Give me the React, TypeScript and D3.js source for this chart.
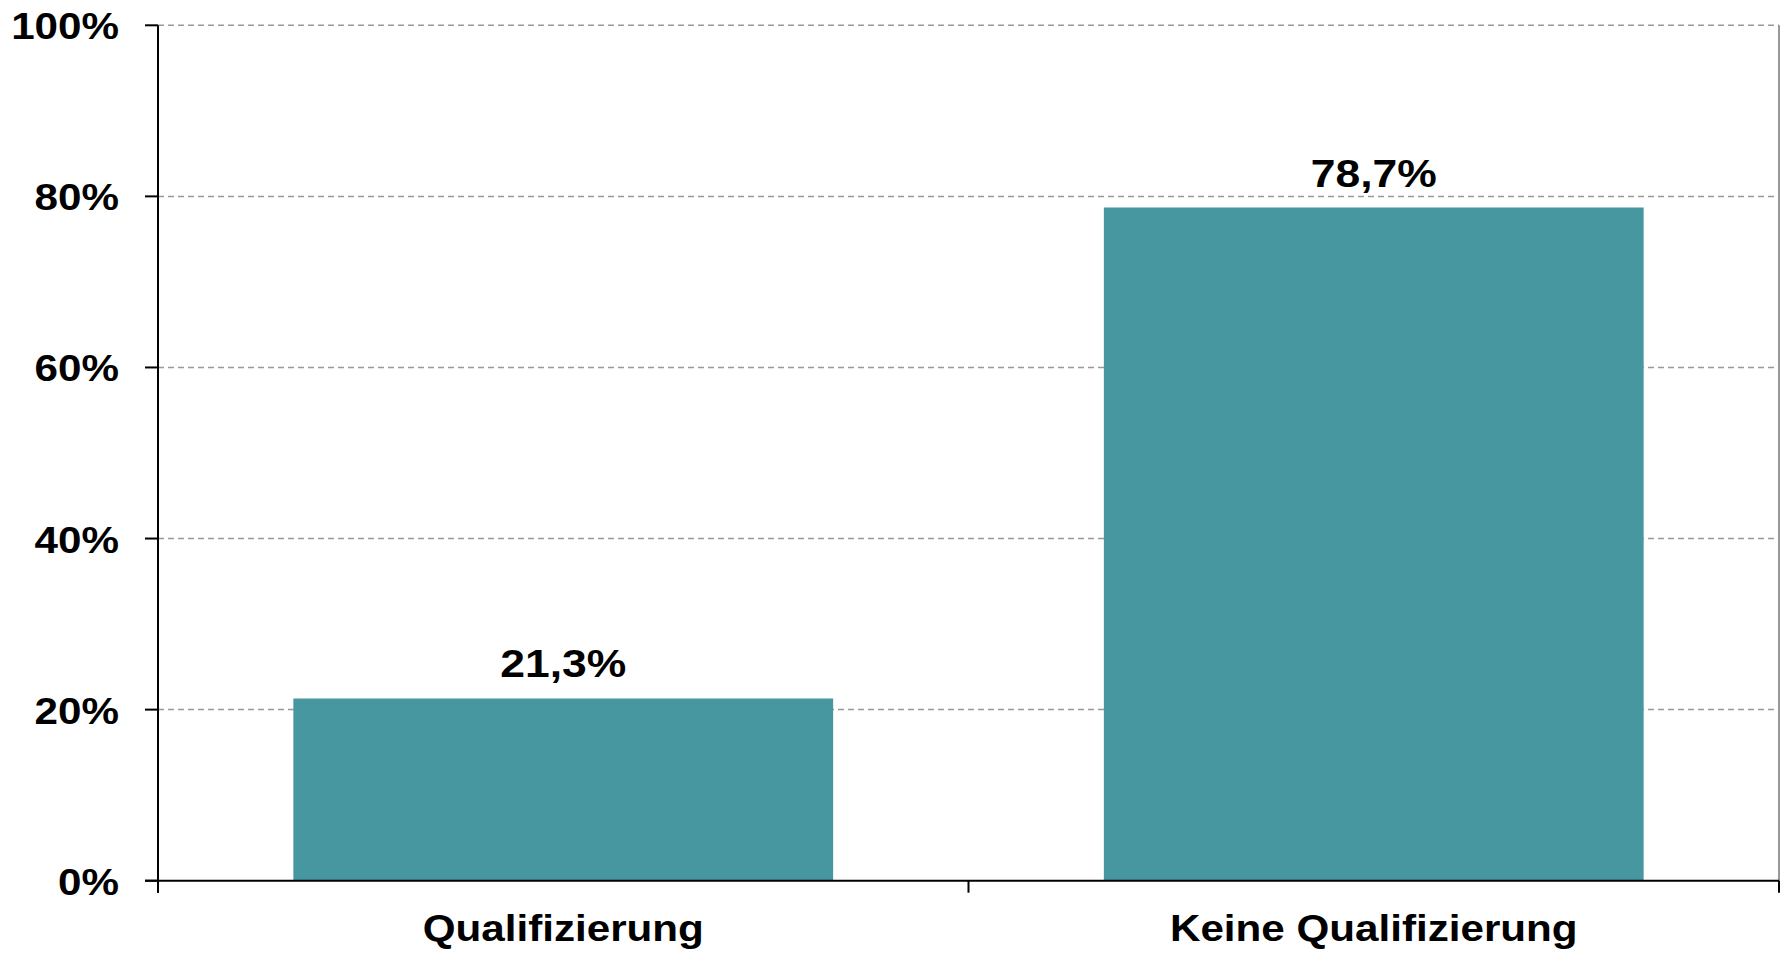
import React from "react";
import * as d3 from "d3";

const categories = ["Qualifizierung", "Keine Qualifizierung"];
const values = [21.3, 78.7];
const valueLabels = ["21,3%", "78,7%"];
const yTicks = [0, 20, 40, 60, 80, 100];
const yTickLabels = ["0%", "20%", "40%", "60%", "80%", "100%"];

const W = 1785;
const H = 954;
const left = 158;
const right = 1779;
const top = 25.3;
const bottom = 880.7;
const FONT = "'Liberation Sans', Arial, sans-serif";
const SX = 1.14;
const FS = 37;

export default function App() {
  const y = d3.scaleLinear().domain([0, 100]).range([bottom, top]);
  const xAxis = d3.scaleBand<string>().domain(categories).range([left, right]).padding(0);
  const xBar = d3
    .scaleBand<string>()
    .domain(categories)
    .range([left, right])
    .paddingInner(0.334)
    .paddingOuter(0.167);

  const stretched = (x: number, yy: number, anchor: string, text: string, key: string, sx = SX, fs = FS) => (
    <text
      key={key}
      transform={`translate(${x},${yy}) scale(${sx},1)`}
      textAnchor={anchor}
      fontFamily={FONT}
      fontWeight="bold"
      fontSize={fs}
      fill="#000"
    >
      {text}
    </text>
  );

  const boundaries = [left, ...categories.map((c) => (xAxis(c) as number) + xAxis.bandwidth())];

  return (
    <svg
      width={W}
      height={H}
      style={{ position: "absolute", left: 0, top: 0, background: "#fff" }}
    >
      <rect x={0} y={0} width={W} height={H} fill="#fff" />
      {/* gridlines */}
      {yTicks
        .filter((t) => t > 0)
        .map((t) => (
          <line
            key={"g" + t}
            x1={left}
            x2={right}
            y1={y(t)}
            y2={y(t)}
            stroke="#999"
            strokeWidth={1.5}
            strokeDasharray="6,4"
          />
        ))}
      {/* right border */}
      <line x1={right} x2={right} y1={top} y2={bottom} stroke="#999" strokeWidth={2} />
      {/* bars */}
      {categories.map((c, i) => (
        <rect
          key={c}
          x={xBar(c)}
          y={y(values[i])}
          width={xBar.bandwidth()}
          height={y(0) - y(values[i])}
          fill="#46979F"
        />
      ))}
      {/* value labels */}
      {categories.map((c, i) =>
        stretched((xBar(c) as number) + xBar.bandwidth() / 2, y(values[i]) - 21, "middle", valueLabels[i], "v" + c, 1.17, 38)
      )}
      {/* y axis */}
      <line x1={left} x2={left} y1={top} y2={bottom + 12} stroke="#000" strokeWidth={2} />
      {yTicks.map((t, i) => (
        <g key={"yt" + t}>
          <line x1={left - 13} x2={left} y1={y(t)} y2={y(t)} stroke="#000" strokeWidth={2} />
          {stretched(119, y(t) + 14, "end", yTickLabels[i], "yl" + t)}
        </g>
      ))}
      {/* x axis */}
      <line x1={left - 13} x2={right} y1={bottom} y2={bottom} stroke="#000" strokeWidth={2} />
      {boundaries.map((b, i) => (
        <line key={"xt" + i} x1={b} x2={b} y1={bottom} y2={bottom + 12} stroke="#000" strokeWidth={2} />
      ))}
      {categories.map((c) =>
        stretched((xAxis(c) as number) + xAxis.bandwidth() / 2, bottom + 60, "middle", c, "xl" + c)
      )}
    </svg>
  );
}
